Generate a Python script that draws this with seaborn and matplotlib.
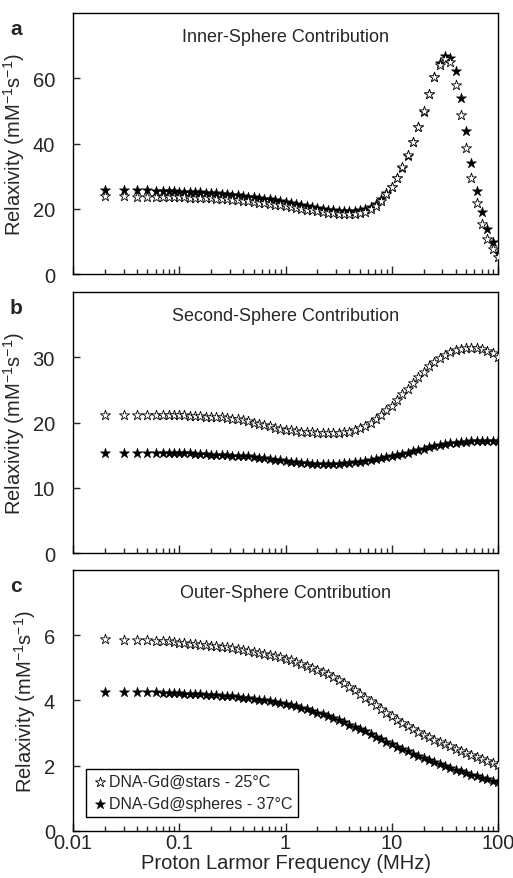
import numpy as np
import pandas as pd
import matplotlib
matplotlib.use("Agg")
import matplotlib.pyplot as plt
import seaborn as sns
from matplotlib.ticker import LogLocator, NullFormatter, FixedLocator, FixedFormatter

sns.set_style("ticks")
plt.rcParams["font.family"] = ["Liberation Sans", "DejaVu Sans"]

# proton Larmor frequency (MHz)
freq = [0.02, 0.03, 0.04, 0.05, 0.06, 0.07, 0.08, 0.09,
        0.1, 0.112, 0.126, 0.141, 0.158, 0.178, 0.2, 0.224, 0.251, 0.282,
        0.316, 0.355, 0.398, 0.447, 0.501, 0.562, 0.631, 0.708, 0.794, 0.891,
        1.0, 1.12, 1.26, 1.41, 1.58, 1.78, 2.0, 2.24, 2.51, 2.82,
        3.16, 3.55, 3.98, 4.47, 5.01, 5.62, 6.31, 7.08, 7.94, 8.91,
        10.0, 11.2, 12.6, 14.1, 15.8, 17.8, 20.0, 22.4, 25.1, 28.2,
        31.6, 35.5, 39.8, 44.7, 50.1, 56.2, 63.1, 70.8, 79.4, 89.1, 100.0]

# inner-sphere relaxivity
inner_stars = [23.8, 23.8, 23.7, 23.7, 23.7, 23.6, 23.6, 23.6,
               23.5, 23.5, 23.4, 23.4, 23.3, 23.3, 23.2, 23.1, 23.0, 22.9,
               22.8, 22.6, 22.5, 22.3, 22.1, 21.9, 21.7, 21.5, 21.3, 21.1,
               20.9, 20.6, 20.3, 20.0, 19.7, 19.5, 19.2, 19.0, 18.8, 18.6,
               18.5, 18.4, 18.3, 18.4, 18.6, 19.1, 19.9, 21.0, 22.5, 24.4,
               26.7, 29.5, 32.7, 36.4, 40.6, 45.2, 50.1, 55.3, 60.3, 64.2,
               66.0, 65.0, 58.0, 48.6, 38.5, 29.3, 21.8, 15.3, 10.8, 7.7, 5.3]
inner_spheres = [25.8, 25.8, 25.7, 25.7, 25.6, 25.6, 25.5, 25.5,
                 25.3, 25.2, 25.2, 25.1, 25.0, 24.9, 24.8, 24.7, 24.6, 24.4,
                 24.3, 24.1, 23.9, 23.7, 23.5, 23.3, 23.1, 22.9, 22.7, 22.4,
                 22.2, 21.8, 21.4, 21.1, 20.8, 20.5, 20.2, 19.9, 19.7, 19.5,
                 19.4, 19.3, 19.2, 19.3, 19.5, 19.9, 20.6, 21.6, 23.0, 24.7,
                 26.8, 29.5, 32.5, 36.3, 40.5, 45.0, 49.7, 55.2, 60.4, 64.8,
                 66.8, 66.3, 62.2, 54.0, 43.8, 34.0, 25.5, 19.0, 13.8, 9.8, 6.6]

# second-sphere relaxivity
second_stars = [21.2, 21.2, 21.2, 21.2, 21.2, 21.2, 21.1, 21.1,
                21.1, 21.1, 21.0, 21.0, 21.0, 20.9, 20.9, 20.8, 20.8, 20.7,
                20.6, 20.5, 20.4, 20.2, 20.0, 19.8, 19.6, 19.4, 19.2, 19.0,
                18.9, 18.8, 18.7, 18.6, 18.5, 18.5, 18.4, 18.4, 18.4, 18.4,
                18.4, 18.5, 18.6, 18.8, 19.1, 19.5, 20.0, 20.6, 21.2, 21.9,
                22.6, 23.4, 24.3, 25.2, 26.1, 27.0, 27.8, 28.6, 29.3, 29.9,
                30.4, 30.8, 31.1, 31.3, 31.4, 31.4, 31.4, 31.3, 31.0, 30.6, 30.1]
second_spheres = [15.4, 15.4, 15.4, 15.4, 15.4, 15.4, 15.3, 15.3,
                  15.3, 15.3, 15.3, 15.2, 15.2, 15.2, 15.1, 15.1, 15.0, 15.0,
                  14.9, 14.9, 14.8, 14.8, 14.7, 14.6, 14.5, 14.4, 14.3, 14.2,
                  14.1, 14.0, 13.9, 13.8, 13.8, 13.7, 13.7, 13.7, 13.7, 13.7,
                  13.7, 13.8, 13.8, 13.9, 14.0, 14.1, 14.2, 14.4, 14.5, 14.7,
                  14.8, 15.0, 15.2, 15.4, 15.6, 15.8, 16.0, 16.2, 16.4, 16.6,
                  16.7, 16.8, 16.9, 17.0, 17.0, 17.1, 17.1, 17.1, 17.1, 17.1, 17.1]

# outer-sphere relaxivity
outer_stars = [5.87, 5.86, 5.85, 5.84, 5.83, 5.82, 5.81, 5.80,
               5.76, 5.75, 5.74, 5.73, 5.71, 5.70, 5.68, 5.67, 5.65, 5.63,
               5.61, 5.59, 5.56, 5.53, 5.50, 5.47, 5.44, 5.40, 5.36, 5.32,
               5.28, 5.23, 5.18, 5.13, 5.07, 5.01, 4.94, 4.87, 4.80, 4.72,
               4.64, 4.53, 4.42, 4.31, 4.20, 4.09, 3.97, 3.86, 3.74, 3.62,
               3.51, 3.41, 3.31, 3.21, 3.12, 3.03, 2.95, 2.87, 2.80, 2.73,
               2.66, 2.59, 2.52, 2.45, 2.39, 2.32, 2.26, 2.20, 2.14, 2.08, 2.02]
outer_spheres = [4.27, 4.26, 4.26, 4.25, 4.25, 4.24, 4.24, 4.23,
                 4.22, 4.21, 4.20, 4.20, 4.19, 4.18, 4.17, 4.16, 4.15, 4.14,
                 4.13, 4.11, 4.09, 4.07, 4.05, 4.03, 4.01, 3.99, 3.96, 3.93,
                 3.90, 3.86, 3.82, 3.78, 3.73, 3.68, 3.63, 3.58, 3.52, 3.46,
                 3.40, 3.33, 3.26, 3.19, 3.12, 3.05, 2.97, 2.89, 2.81, 2.73,
                 2.66, 2.58, 2.51, 2.44, 2.37, 2.30, 2.24, 2.17, 2.11, 2.05,
                 1.99, 1.94, 1.88, 1.83, 1.78, 1.73, 1.68, 1.63, 1.59, 1.54, 1.50]

titles = ["Inner-Sphere Contribution", "Second-Sphere Contribution", "Outer-Sphere Contribution"]
letters = ["a", "b", "c"]
ylims = [80, 40, 8]
yticks = [[0, 20, 40, 60], [0, 10, 20, 30], [0, 2, 4, 6]]
xticks = [0.01, 0.1, 1, 10, 100]
xticklabels = ["0.01", "0.1", "1", "10", "100"]
series = [(inner_stars, inner_spheres), (second_stars, second_spheres), (outer_stars, outer_spheres)]
label_stars = "DNA-Gd@stars - 25°C"
label_spheres = "DNA-Gd@spheres - 37°C"

fig = plt.figure(figsize=(5.13, 8.79), dpi=100)
positions = [[0.1423, 0.6871, 0.8285, 0.2969],
             [0.1423, 0.3697, 0.8285, 0.2969],
             [0.1423, 0.0535, 0.8285, 0.2969]]
letter_y = [0.967, 0.6496, 0.3333]

for i in range(3):
    ax = fig.add_axes(positions[i])
    stars, spheres = series[i]
    df = pd.DataFrame({"freq": freq, "stars": stars, "spheres": spheres})
    sns.scatterplot(data=df, x="freq", y="spheres", marker="*", s=58, color="black",
                    edgecolor="black", linewidth=0.4, ax=ax, label=label_spheres, zorder=3)
    sns.scatterplot(data=df, x="freq", y="stars", marker="*", s=58, color="white",
                    edgecolor="black", linewidth=0.6, ax=ax, label=label_stars, zorder=4)
    ax.set_xscale("log")
    ax.set_xlim(0.01, 100)
    ax.set_ylim(0, ylims[i])
    ax.set_yticks(yticks[i])
    ax.xaxis.set_major_locator(FixedLocator(xticks))
    ax.xaxis.set_major_formatter(FixedFormatter(xticklabels))
    ax.xaxis.set_minor_locator(LogLocator(base=10, subs=np.arange(2, 10), numticks=20))
    ax.xaxis.set_minor_formatter(NullFormatter())
    ax.tick_params(which="both", direction="in", top=False, right=False, width=1, labelsize=14.5)
    ax.tick_params(axis="x", which="major", length=6, pad=1.5)
    ax.tick_params(axis="x", which="minor", length=3.5)
    ax.tick_params(axis="y", which="major", length=5, pad=13)
    for sp in ax.spines.values():
        sp.set_linewidth(1.0)
        sp.set_color("black")
    ax.set_ylabel("Relaxivity (mM$^{\\mathregular{-1}}$s$^{\\mathregular{-1}}$)", fontsize=14.5, labelpad=4)
    ax.text(0.5, 0.912, titles[i], transform=ax.transAxes, ha="center", va="center", fontsize=13)
    fig.text(0.031, letter_y[i], letters[i], ha="center", va="center", fontsize=15, fontweight="bold")
    if i < 2:
        ax.tick_params(axis="x", labelbottom=False)
        ax.set_xlabel("")
        ax.get_legend().remove()
    else:
        ax.set_xlabel("Proton Larmor Frequency (MHz)", fontsize=14.5, labelpad=1)
        handles, labels = ax.get_legend_handles_labels()
        leg = ax.legend(handles[::-1], labels[::-1], loc="lower left", bbox_to_anchor=(0.031, 0.054),
                        borderaxespad=0, fontsize=11.5, frameon=True, fancybox=False,
                        edgecolor="black", framealpha=1, handletextpad=0.1, handlelength=1.0,
                        borderpad=0.35, labelspacing=0.45, markerscale=1.0)
        leg.get_frame().set_linewidth(1.0)

fig.savefig("out.png", dpi=100)
